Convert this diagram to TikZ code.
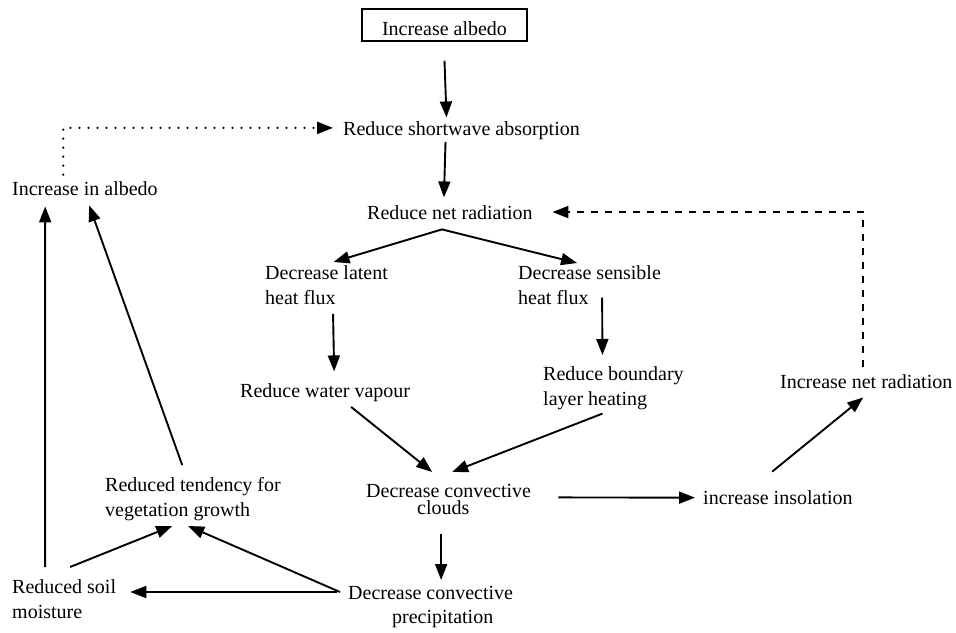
\documentclass[tikz,border=0pt]{standalone}
\usepackage{fontspec}
\setmainfont{Liberation Serif}
\usetikzlibrary{arrows.meta,calc}
\begin{document}
\begin{tikzpicture}[x=1pt,y=-1pt,
  lbl/.style={inner sep=0pt,font=\fontsize{20}{25}\selectfont,align=left},
  arr/.style={line width=1.9pt,-{Triangle[length=16pt,width=12pt]}},
  dotline/.style={arr,line cap=round,dash pattern=on 0pt off 9pt,line width=2.4pt},
  dashline/.style={arr,dash pattern=on 7pt off 7pt}]
\useasboundingbox (0,0) rectangle (956,632);
% nodes
\node[lbl,draw,line width=1.5pt,minimum width=165pt,minimum height=32pt,text height=21pt,text depth=0pt] (box) at (444.5,25) {Increase albedo};
\node[lbl,anchor=base west] (sw) at (343,135.5) {Reduce shortwave absorption};
\node[lbl,anchor=base west] (ia) at (12,195.5) {Increase in albedo};
\node[lbl,anchor=base west] (nr) at (367,219.5) {Reduce net radiation};
\node[lbl,anchor=north west] (lat) at (265,265) {Decrease latent\\heat flux};
\node[lbl,anchor=north west] (sen) at (518,265) {Decrease sensible\\heat flux};
\node[lbl,anchor=base west] (wv) at (240,397.5) {Reduce water vapour};
\node[lbl,anchor=north west] (bl) at (543,366) {Reduce boundary\\layer heating};
\node[lbl,anchor=north west,font=\fontsize{20}{17}\selectfont] (cc) at (366,484) {Decrease convective\\\hspace*{51pt}clouds};
\node[lbl,anchor=base west] (ins) at (703,504.5) {increase insolation};
\node[lbl,anchor=base west] (inr) at (780,388.5) {Increase net radiation};
\node[lbl,anchor=north west,font=\fontsize{20}{24}\selectfont] (cp) at (348,586) {Decrease convective\\\hspace*{44pt}precipitation};
\node[lbl,anchor=north west] (veg) at (105,477) {Reduced tendency for\\vegetation growth};
\node[lbl,anchor=north west] (soil) at (12,579) {Reduced soil\\moisture};
% connectors
\draw[arr] ($(box.south)+(0,19)$) -- ($(sw.north)+(-15,-4)$);
\draw[arr] ($(sw.south)+(-16,2)$) -- ($(nr.north)+(-6,-8)$);
\draw[arr] ($(nr.south)+(-8,9.5)$) -- ($(lat.north)+(7,-3)$);
\draw[arr] ($(nr.south)+(-8,9.5)$) -- ($(sen.north)+(-12.5,-2)$);
\draw[arr] ($(lat.south)+(6.5,9.5)$) -- ($(wv.north)+(9,-12)$);
\draw[arr] ($(sen.east)+(-59,13)$) -- ($(bl.north)+(-11,-11)$);
\draw[arr] ($(wv.south)+(26,5)$) -- ($(cc.north)+(-16.5,-12)$);
\draw[arr] ($(bl.south)+(-11,4)$) -- ($(cc.north)+(3.5,-12)$);
\draw[arr] ($(cc.east)+(27,-2)$) -- ($(ins.west)+(-8,0)$);
\draw[arr] ($(ins.north)+(-5.7,-18.8)$) -- ($(inr.south)+(-3,8.5)$);
\draw[arr] ($(cc.south)+(-7.5,19)$) -- ($(cp.north)+(10.5,-6)$);
\draw[arr] ($(cp.north west)+(-11,6)$) -- ($(soil.north east)+(14,13)$);
\draw[arr] ($(cp.north west)+(-8,6)$) -- ($(veg.south)+(-4.75,5.2)$);
\draw[arr] ($(soil.north)+(6,-12)$) -- ($(veg.south)+(-20.75,5.2)$);
\draw[arr] ($(soil.north)+(-19,-12)$) -- ($(ia.south)+(-39.75,10.5)$);
\draw[arr] ($(veg.north)+(-10.75,-12)$) -- ($(ia.south)+(4.25,9.5)$);
\draw[dotline] ($(ia.north)+(-21.75,-6.8)$) |- ($(sw.west)+(-10,-2.8)$);
\draw[dashline] ($(inr.north)+(-3,-7.8)$) |- ($(nr.east)+(19.5,-0.6)$);
\end{tikzpicture}
\end{document}
